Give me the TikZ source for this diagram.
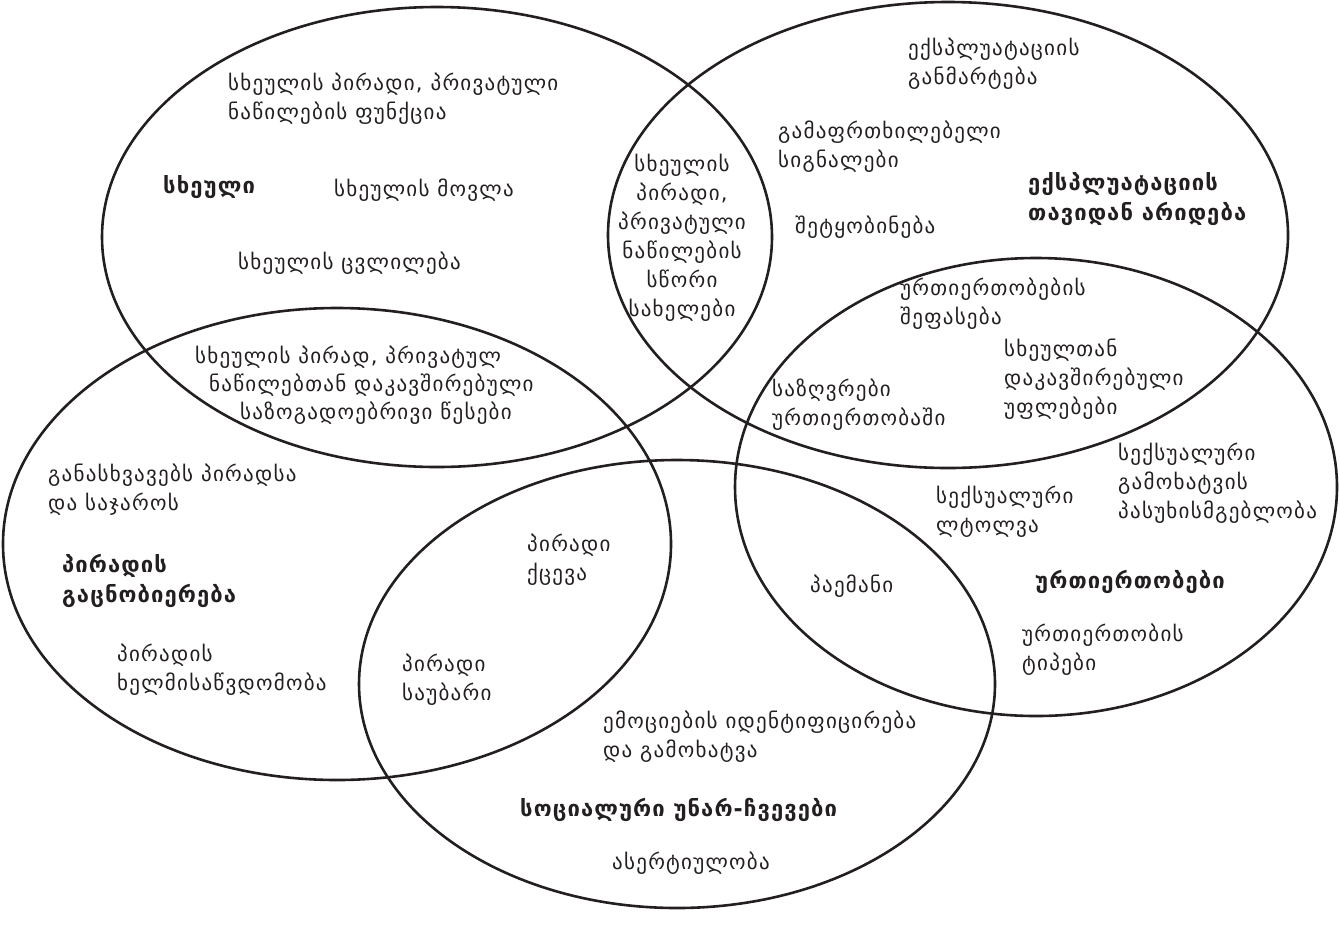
\documentclass[tikz,border=0pt]{standalone}
\usepackage{fontspec}
\setmainfont{DejaVu Sans}
\newfontfamily\bodyf{DejaVu Sans}[LetterSpace=6]
\newfontfamily\ttlf{DejaVu Sans}[LetterSpace=5]
\definecolor{ink}{HTML}{231F20}
\tikzset{
  ring/.style={draw=ink,line width=2.6pt},
  txt/.style={anchor=west,align=left,inner sep=0pt,text=ink,font=\bodyf\fontsize{21}{29}\selectfont},
  ctxt/.style={anchor=center,align=center,inner sep=0pt,text=ink,font=\bodyf\fontsize{21}{29}\selectfont},
  ttl/.style={anchor=west,align=left,inner sep=0pt,text=ink,font=\ttlf\fontsize{22}{30}\selectfont\bfseries},
}
\begin{document}
\begin{tikzpicture}[x=1pt,y=-1pt]
\useasboundingbox (0,0) rectangle (1340,927);
% ellipses
\draw[ring] (437,237) ellipse [x radius=335,y radius=230];
\draw[ring] (948,235) ellipse [x radius=340,y radius=233];
\draw[ring] (1036,487) ellipse [x radius=301,y radius=229];
\draw[ring] (337,544) ellipse [x radius=334,y radius=236];
\draw[ring] (677,684) ellipse [x radius=318,y radius=224];
% texts
\node[txt] (t1) at (228,99) {სხეულის პირადი, პრივატული\\ნაწილების ფუნქცია};
\node[ttl] (t2) at (163,187) {სხეული};
\node[txt] (t3) at (334,190) {სხეულის მოვლა};
\node[txt] (t4) at (238,263) {სხეულის ცვლილება};
\node[ctxt] (t5) at (682,238) {სხეულის\\პირადი,\\პრივატული\\ნაწილების\\სწორი\\სახელები};
\node[txt] (t6) at (908,64) {ექსპლუატაციის\\განმარტება};
\node[txt] (t7) at (778,147) {გამაფრთხილებელი\\სიგნალები};
\node[ttl] (t8) at (1028,199) {ექსპლუატაციის\\თავიდან არიდება};
\node[txt] (t9) at (795,227) {შეტყობინება};
\node[txt] (t10a) at (195,357) {სხეულის პირად, პრივატულ};
\node[txt] (t10b) at (209,385) {ნაწილებთან დაკავშირებული};
\node[txt] (t10c) at (240,413) {საზოგადოებრივი წესები};
\node[txt] (t11) at (900,304) {ურთიერთობების\\შეფასება};
\node[txt] (t12) at (1004,379) {სხეულთან\\დაკავშირებული\\უფლებები};
\node[txt] (t13) at (772,405) {საზღვრები\\ურთიერთობაში};
\node[txt] (t14) at (1118,483) {სექსუალური\\გამოხატვის\\პასუხისმგებლობა};
\node[txt] (t15) at (936,512) {სექსუალური\\ლტოლვა};
\node[txt] (t16) at (48,490) {განასხვავებს პირადსა\\და საჯაროს};
\node[ttl] (t17) at (62,581) {პირადის\\გაცნობიერება};
\node[txt] (t18) at (117,670) {პირადის\\ხელმისაწვდომობა};
\node[txt] (t19) at (527,560) {პირადი\\ქცევა};
\node[txt] (t20) at (810,586) {პაემანი};
\node[ttl] (t21) at (1035,582) {ურთიერთობები};
\node[txt] (t22) at (1022,650) {ურთიერთობის\\ტიპები};
\node[txt] (t23) at (402,680) {პირადი\\საუბარი};
\node[txt] (t24) at (603,737) {ემოციების იდენტიფიცირება\\და გამოხატვა};
\node[ttl] (t25) at (520,810) {სოციალური უნარ-ჩვევები};
\node[txt] (t26) at (612,863) {ასერტიულობა};
\end{tikzpicture}
\end{document}
